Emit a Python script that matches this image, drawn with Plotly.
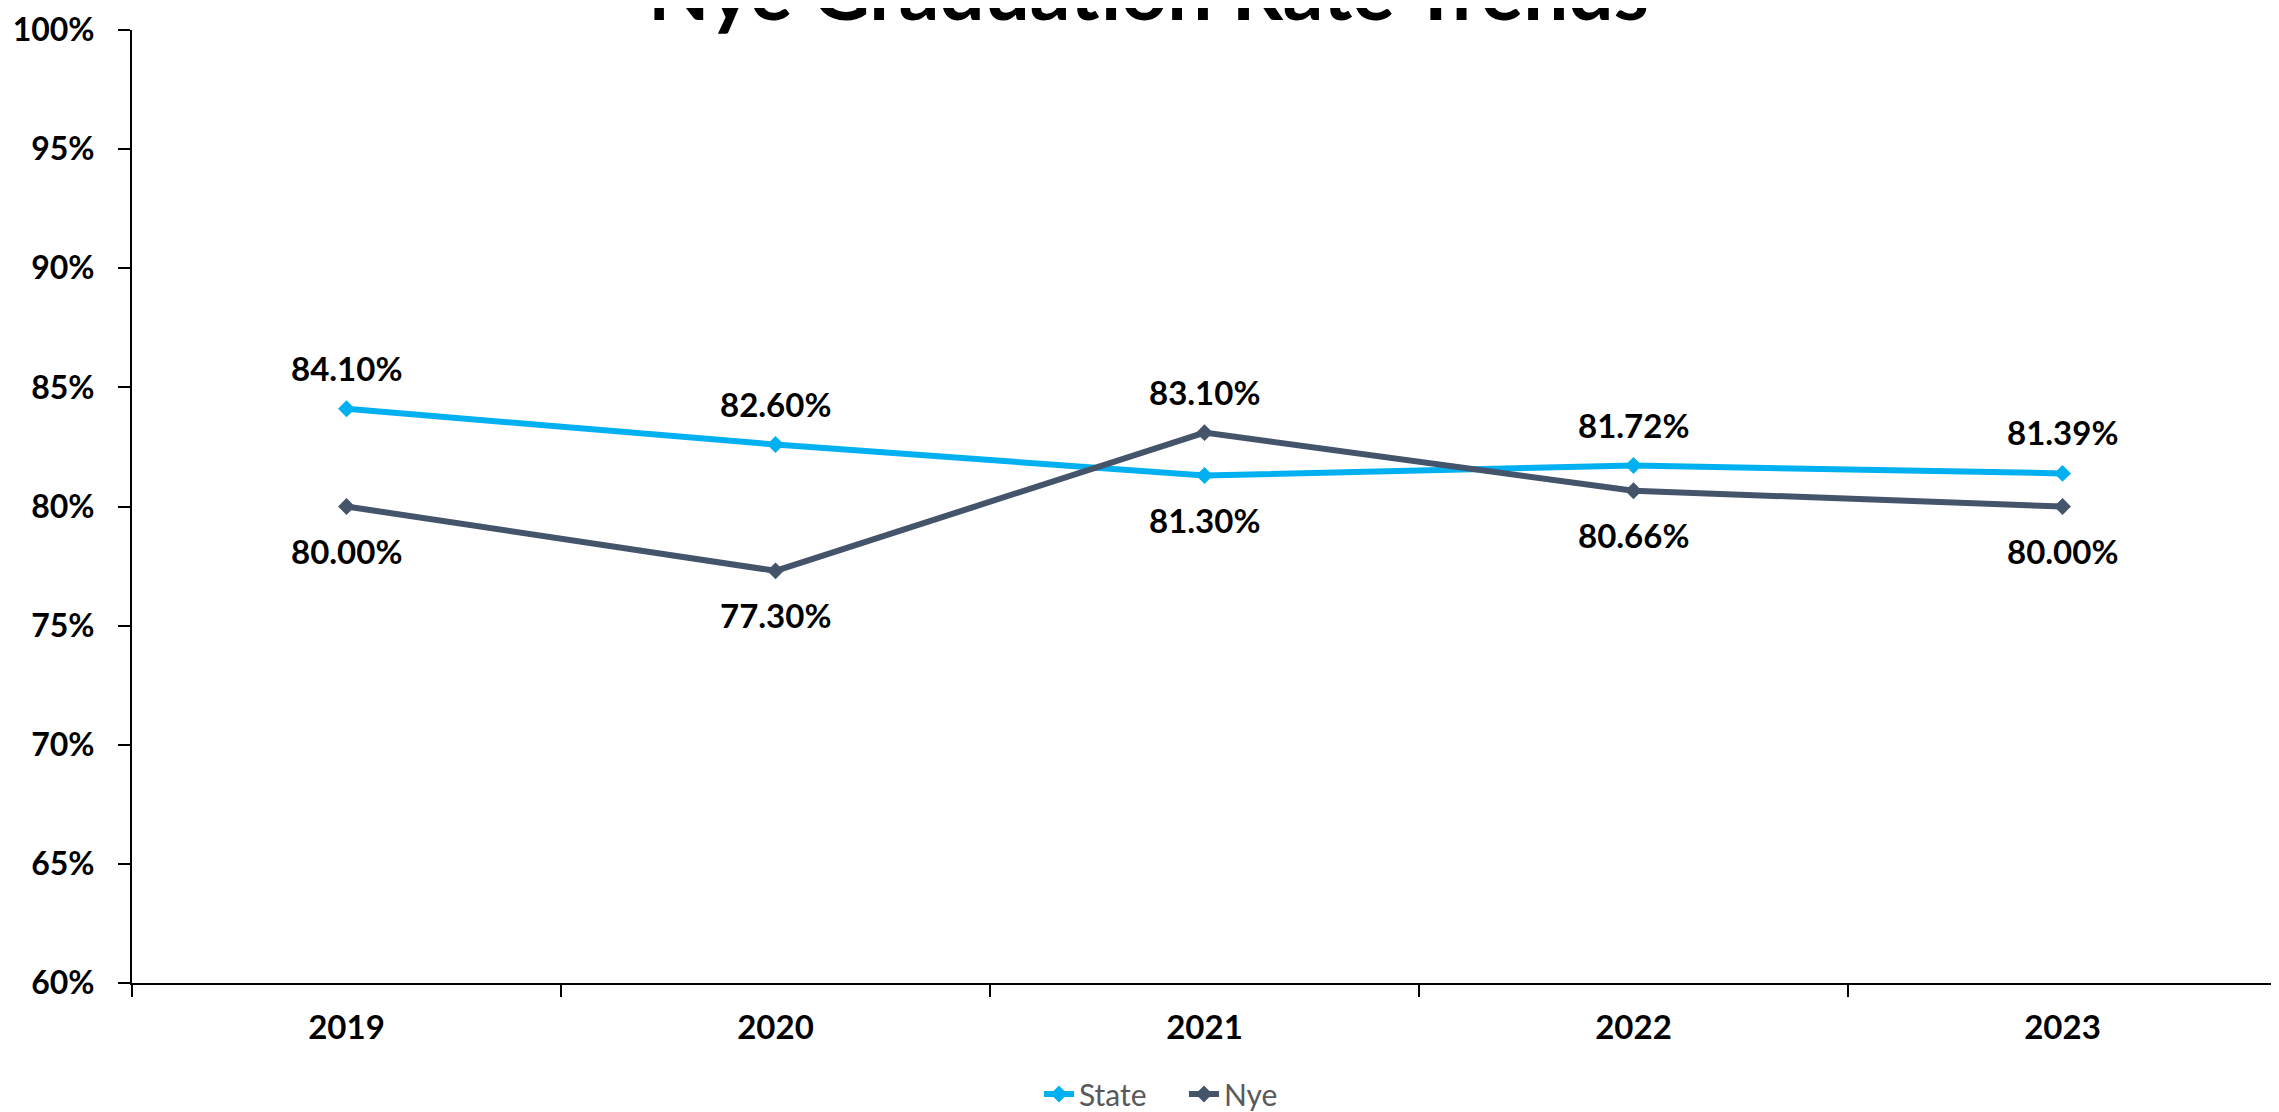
import plotly.graph_objects as go

years = ["2019", "2020", "2021", "2022", "2023"]
state = [0.8410, 0.8260, 0.8130, 0.8172, 0.8139]
nye = [0.8000, 0.7730, 0.8310, 0.8066, 0.8000]
state_label_pos = ["above", "above", "below", "above", "above"]
nye_label_pos = ["below", "below", "above", "below", "below"]
y_ticks = [0.60, 0.65, 0.70, 0.75, 0.80, 0.85, 0.90, 0.95, 1.00]

STATE_C = "#00B0F0"
NYE_C = "#44546A"
FONT = "Lato"

fig = go.Figure()
fig.add_trace(go.Scatter(x=years, y=state, name="State", mode="lines+markers",
                         line=dict(color=STATE_C, width=6),
                         marker=dict(symbol="diamond", size=13, color=STATE_C)))
fig.add_trace(go.Scatter(x=years, y=nye, name="Nye", mode="lines+markers",
                         line=dict(color=NYE_C, width=6),
                         marker=dict(symbol="diamond", size=13, color=NYE_C)))

for vals, poss in ((state, state_label_pos), (nye, nye_label_pos)):
    for i, (v, p) in enumerate(zip(vals, poss)):
        fig.add_annotation(x=i, y=v, xref="x", yref="y", text=f"{v*100:.2f}%",
                           showarrow=False,
                           yshift=41 if p == "above" else -44,
                           font=dict(family=FONT, size=33, color="black", weight="bold"))

fig.add_annotation(xref="paper", yref="paper", x=0.474, y=1, yanchor="bottom",
                   yshift=-9, text="Nye Graduation Rate Trends", showarrow=False,
                   font=dict(family=FONT, size=80, color="black", weight="bold"))

fig.update_layout(
    width=2279, height=1112,
    margin=dict(l=124, r=10, t=22, b=137, autoexpand=False),
    paper_bgcolor="white", plot_bgcolor="white",
    showlegend=True,
    legend=dict(orientation="h", x=0.516, xanchor="center", xref="container",
                y=0.0, yanchor="bottom", yref="container",
                font=dict(family=FONT, size=30, color="#595959"),
                entrywidth=100),
)
fig.update_xaxes(type="category", range=[-0.5, 4.5], showline=True, linecolor="black",
                 linewidth=2, ticks="outside", tickson="boundaries", ticklen=12,
                 tickcolor="black", tickwidth=2, showgrid=False, zeroline=False,
                 ticklabelstandoff=14, automargin=False,
                 tickfont=dict(family=FONT, size=33, color="black", weight="bold"))
fig.update_yaxes(range=[0.60, 1.00], tickvals=y_ticks, tickformat=".0%",
                 showline=True, linecolor="black", linewidth=2, ticks="outside",
                 ticklen=12, tickcolor="black", tickwidth=2, showgrid=False,
                 zeroline=False, ticklabelstandoff=17, ticklabeloverflow="allow",
                 automargin=False,
                 tickfont=dict(family=FONT, size=32, color="black", weight="bold"))

fig.write_html("out.html")
